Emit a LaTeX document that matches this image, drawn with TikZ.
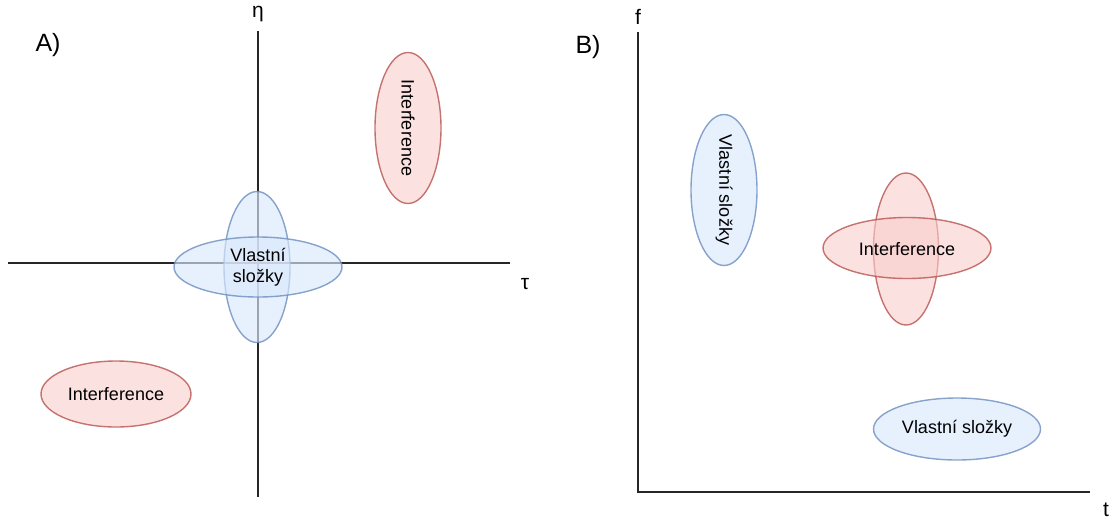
\documentclass[tikz,border=0pt]{standalone}
\usepackage{fontspec}
\setmainfont{Liberation Sans}
\usetikzlibrary{shapes.geometric}
\definecolor{bfill}{HTML}{DAE8FC}
\definecolor{bdraw}{HTML}{6C8EBF}
\definecolor{rfill}{HTML}{F8CECC}
\definecolor{rdraw}{HTML}{B85450}
\tikzset{
  axis/.style={line width=1.6pt, draw=black!85},
  blueell/.style={ellipse, draw=bdraw, draw opacity=0.8, fill=bfill, fill opacity=0.65, text opacity=1, line width=1.4pt, inner sep=0pt},
  redell/.style={ellipse, draw=rdraw, draw opacity=0.8, fill=rfill, fill opacity=0.6, text opacity=1, line width=1.4pt, inner sep=0pt},
  lbl/.style={font=\fontsize{18}{21}\selectfont, text=black, align=center},
  axlbl/.style={font=\fontsize{21}{24}\selectfont},
  panel/.style={font=\fontsize{25}{28}\selectfont},
}
\begin{document}
\begin{tikzpicture}[x=1pt,y=-1pt]
\useasboundingbox (0,0) rectangle (1110,523);
% Panel A
\node[panel] (A) at (48,45) {A)};
\coordinate (ytop) at (258,31);
\coordinate (ybot) at (258,497);
\coordinate (xl) at (8,263);
\coordinate (xr) at (510,263);
\draw[axis] (ytop) -- (ybot);
\draw[axis] (xl) -- (xr);
\node[axlbl] (eta) at (258,14) {η};
\node[axlbl] (tau) at (525,284) {τ};
\node[blueell, minimum width=66, minimum height=151] (av) at (257,267) {};
\node[blueell, minimum width=168, minimum height=60] (ah) at (258,267) {};
\node[lbl] (avt) at (258,267) {Vlastní\\složky};
\node[redell, minimum width=151, minimum height=66, rotate=-90] (ari) at (408,128) {};
\node[lbl, rotate=-90] (arit) at (408,128) {Interference};
\node[redell, minimum width=150, minimum height=66] (alb) at (116,394) {\fontsize{18}{21}\selectfont Interference};
% Panel B
\node[panel] (B) at (588,47) {B)};
\coordinate (ftop) at (638,32);
\coordinate (orig) at (638,492);
\coordinate (tr) at (1090,492);
\draw[axis] (ftop) -- (orig) -- (tr);
\node[axlbl] (f) at (638,17) {f};
\node[axlbl] (t) at (1106,510) {t};
\node[blueell, minimum width=151, minimum height=66, rotate=-90] (bv) at (724,190) {};
\node[lbl, rotate=-90] (bvt) at (724,190) {Vlastní složky};
\node[redell, minimum width=152, minimum height=65, rotate=-90] (brv) at (906,249) {};
\node[redell, minimum width=168, minimum height=61] (brh) at (907,248) {};
\node[lbl] (brt) at (907,249) {Interference};
\node[blueell, minimum width=167, minimum height=62] (bbr) at (957,429) {\fontsize{18}{21}\selectfont Vlastní složky};
\end{tikzpicture}
\end{document}
